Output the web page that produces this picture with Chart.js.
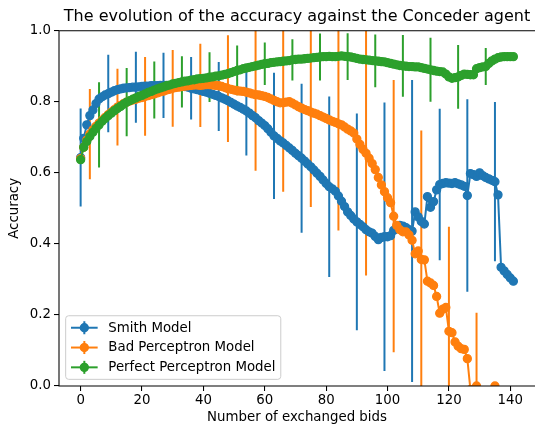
<!DOCTYPE html>
<html>
<head>
<meta charset="utf-8">
<script src="https://cdn.jsdelivr.net/npm/chart.js@4.4.1/dist/chart.umd.min.js"></script>
<style>
html,body{margin:0;padding:0;background:#fff;}
#wrap{width:535px;height:426px;position:relative;}
canvas{display:block;}
</style>
</head>
<body>
<div id="wrap"><canvas id="c" width="535" height="426"></canvas></div>
<script>
// ---------- data (x = number of exchanged bids = array index) ----------
const seriesNames = ['Smith Model', 'Bad Perceptron Model', 'Perfect Perceptron Model'];

const smith = [
0.643,0.697,0.735,0.761,0.777,0.795,0.808,0.814,0.819,0.823,
0.827,0.831,0.834,0.836,0.838,0.839,0.840,0.841,0.841,0.842,
0.843,0.844,0.844,0.845,0.845,0.845,0.846,0.846,0.846,0.846,
0.846,0.845,0.845,0.844,0.843,0.841,0.838,0.836,0.834,0.832,
0.829,0.827,0.824,0.821,0.818,0.815,0.811,0.807,0.803,0.798,
0.793,0.788,0.784,0.779,0.774,0.768,0.761,0.755,0.747,0.740,
0.733,0.724,0.714,0.704,0.697,0.690,0.684,0.677,0.670,0.663,
0.655,0.648,0.641,0.633,0.625,0.617,0.608,0.599,0.590,0.580,
0.570,0.561,0.555,0.548,0.535,0.520,0.505,0.490,0.480,0.470,
0.462,0.455,0.448,0.440,0.434,0.430,0.421,0.412,0.418,0.420,
0.420,0.423,0.438,0.448,0.452,0.450,0.446,0.440,0.436,0.490,
0.476,0.463,0.456,0.533,0.503,0.519,0.552,0.567,0.570,0.572,
0.571,0.570,0.572,0.569,0.566,0.562,0.536,0.598,0.595,0.590,
0.600,0.592,0.587,0.583,0.579,0.575,0.538,0.334,0.324,0.314,
0.304,0.295
];

const badPerceptron = [
0.640,0.672,0.692,0.709,0.721,0.731,0.740,0.748,0.756,0.764,
0.771,0.778,0.785,0.790,0.795,0.799,0.802,0.805,0.807,0.810,
0.812,0.815,0.817,0.820,0.822,0.825,0.828,0.830,0.833,0.835,
0.838,0.840,0.841,0.843,0.844,0.845,0.846,0.847,0.847,0.846,
0.847,0.848,0.848,0.847,0.846,0.845,0.843,0.840,0.837,0.835,
0.833,0.831,0.830,0.829,0.827,0.825,0.822,0.820,0.819,0.817,
0.815,0.812,0.808,0.804,0.800,0.797,0.797,0.799,0.800,0.796,
0.791,0.786,0.782,0.778,0.775,0.771,0.768,0.765,0.761,0.757,
0.753,0.749,0.745,0.742,0.738,0.735,0.729,0.723,0.718,0.712,
0.695,0.680,0.666,0.655,0.641,0.626,0.609,0.587,0.566,0.547,
0.530,0.516,0.478,0.452,0.440,0.434,0.434,0.425,0.410,0.372,
0.380,0.356,0.355,0.295,0.290,0.283,0.252,0.205,0.216,0.221,
0.154,0.150,0.124,0.112,0.105,0.103,0.077,-0.010,null,0.000,
null,null,null,null,null,0.000
];

const perfectPerceptron = [
0.637,0.672,0.688,0.702,0.714,0.725,0.735,0.745,0.753,0.761,
0.768,0.775,0.781,0.787,0.793,0.799,0.803,0.807,0.811,0.815,
0.818,0.822,0.826,0.829,0.833,0.836,0.839,0.842,0.845,0.847,
0.850,0.852,0.854,0.856,0.858,0.859,0.861,0.862,0.864,0.865,
0.866,0.867,0.869,0.870,0.872,0.873,0.875,0.877,0.879,0.882,
0.885,0.888,0.890,0.893,0.895,0.897,0.899,0.901,0.903,0.905,
0.907,0.908,0.910,0.911,0.912,0.913,0.914,0.915,0.916,0.918,
0.919,0.920,0.920,0.921,0.922,0.923,0.924,0.925,0.926,0.927,
0.927,0.928,0.927,0.927,0.928,0.929,0.928,0.927,0.926,0.924,
0.922,0.920,0.919,0.918,0.917,0.916,0.915,0.914,0.913,0.912,
0.910,0.908,0.906,0.904,0.902,0.901,0.900,0.899,0.899,0.898,
0.898,0.896,0.894,0.892,0.890,0.888,0.886,0.885,0.884,0.878,
0.870,0.866,0.868,0.870,0.874,0.878,0.877,0.876,0.876,0.893,
0.896,0.898,0.899,0.908,0.915,0.920,0.924,0.926,0.927,0.927,
0.927,0.927
];

// error bars: positions (bids) and half-lengths
const smithErrX = [0,9,18,27,36,45,54,63,72,81,90,99,108,117,126,135];
const smithErr  = [0.138,0.109,0.100,0.092,0.088,0.097,0.125,0.178,0.210,0.254,0.305,0.378,0.425,0.213,0.271,0.224];
const badErrX   = [3,12,21,30,39,48,57,66,75,84,93,102,111,120,129];
const badErr    = [0.127,0.108,0.111,0.108,0.117,0.150,0.214,0.250,0.267,0.300,0.344,0.383,0.363,0.294,0.206];
const perfectErrX = [6,15,24,33,42,51,60,69,78,87,96,105,114,123,132,141];
const perfectErr  = [0.120,0.096,0.080,0.072,0.070,0.070,0.060,0.058,0.066,0.066,0.074,0.087,0.090,0.090,0.052,0.004];

const xTicks = [0,20,40,60,80,100,120,140];
const yTicks = [0.0,0.2,0.4,0.6,0.8,1.0];

// ---------- styling ----------
const colors = ['#1f77b4','#ff7f0e','#2ca02c'];
const FONT = '"DejaVu Sans", "Liberation Sans", sans-serif';
const FS = 13.33;

function linePoints(vals){ return vals.map((v,i)=>({x:i, y:v})); }
function errPoints(vals, ex, ee){
  const out = [];
  ex.forEach((x,k)=>{
    const v = vals[x];
    out.push({x:x, y:v-ee[k]}, {x:x, y:v+ee[k]}, {x:x, y:null});
  });
  return out;
}

const mains = [smith, badPerceptron, perfectPerceptron];
const errs = [[smithErrX, smithErr],[badErrX, badErr],[perfectErrX, perfectErr]];

const datasets = [];
mains.forEach((vals, k)=>{
  datasets.push({
    label: seriesNames[k] + ' error', isMain:false,
    data: errPoints(vals, errs[k][0], errs[k][1]),
    borderColor: colors[k], backgroundColor: colors[k],
    borderWidth: 2, pointRadius: 0, pointHoverRadius:0, spanGaps:false,
    tension:0, clip:0, order: 10 + (2-k), borderCapStyle:'butt'
  });
});
mains.forEach((vals, k)=>{
  datasets.push({
    label: seriesNames[k], isMain:true, color: colors[k],
    data: linePoints(vals),
    borderColor: colors[k], backgroundColor: colors[k],
    pointBackgroundColor: colors[k], pointBorderColor: colors[k],
    borderWidth: 2, pointRadius: 4, pointBorderWidth: 1.3, pointHoverRadius: 4,
    spanGaps:false, tension:0, clip:0, order: 2-k
  });
});

const frameAndLegend = {
  id:'frameAndLegend',
  afterDraw(chart){
    const {ctx, chartArea:ca} = chart;
    ctx.save();
    // spines (the right spine falls just outside the picture, as in the original)
    ctx.strokeStyle = '#000';
    ctx.lineWidth = 1.07;
    ctx.beginPath();
    ctx.moveTo(ca.right, ca.bottom);
    ctx.lineTo(ca.left, ca.bottom);
    ctx.lineTo(ca.left, ca.top);
    ctx.lineTo(ca.right, ca.top);
    ctx.stroke();

    // legend (lower left, inside axes)
    const items = chart.data.datasets.filter(d=>d.isMain);
    const pad = FS*0.4, hl = FS*2, htp = FS*0.8, pitch = 19.8;
    ctx.font = FS + 'px ' + FONT;
    const tw = Math.max(...items.map(d=>ctx.measureText(d.label).width));
    const bw = pad + hl + htp + tw + pad;
    const bh = 2*pad + pitch*(items.length-1) + FS;
    const bx = ca.left + FS*0.5;
    const by = ca.bottom - FS*0.5 - bh;
    const r = 3;
    ctx.beginPath();
    ctx.moveTo(bx+r, by);
    ctx.lineTo(bx+bw-r, by); ctx.arcTo(bx+bw, by, bx+bw, by+r, r);
    ctx.lineTo(bx+bw, by+bh-r); ctx.arcTo(bx+bw, by+bh, bx+bw-r, by+bh, r);
    ctx.lineTo(bx+r, by+bh); ctx.arcTo(bx, by+bh, bx, by+bh-r, r);
    ctx.lineTo(bx, by+r); ctx.arcTo(bx, by, bx+r, by, r);
    ctx.closePath();
    ctx.fillStyle = 'rgba(255,255,255,0.8)';
    ctx.fill();
    ctx.strokeStyle = '#cccccc';
    ctx.lineWidth = 1;
    ctx.stroke();

    items.forEach((d, k)=>{
      const cy = by + pad + FS/2 + k*pitch;
      const x0 = bx + pad, x1 = x0 + hl, cx = (x0+x1)/2;
      ctx.strokeStyle = d.color; ctx.fillStyle = d.color;
      ctx.lineWidth = 2;
      ctx.beginPath(); ctx.moveTo(x0, cy); ctx.lineTo(x1, cy); ctx.stroke();
      ctx.beginPath(); ctx.moveTo(cx, cy-6.5); ctx.lineTo(cx, cy+6.5); ctx.stroke();
      ctx.lineWidth = 1.3;
      ctx.beginPath(); ctx.arc(cx, cy, 4, 0, Math.PI*2); ctx.fill(); ctx.stroke();
      ctx.fillStyle = '#000';
      ctx.textBaseline = 'middle'; ctx.textAlign = 'left';
      ctx.fillText(d.label, x1 + htp, cy + 0.5);
    });
    ctx.restore();
  }
};

new Chart(document.getElementById('c'), {
  type:'line',
  data:{ datasets },
  options:{
    responsive:false, animation:false, devicePixelRatio:1,
    events:[],
    layout:{ autoPadding:false, padding:{left:0,right:0,top:0,bottom:0} },
    plugins:{
      legend:{ display:false },
      tooltip:{ enabled:false },
      title:{
        display:true, fullSize:false,
        text:'The evolution of the accuracy against the Conceder agent',
        color:'#000', font:{family:FONT, size:16, weight:'normal', lineHeight:1.2},
        padding:{top:6.9, bottom:4.6}
      }
    },
    scales:{
      x:{
        type:'linear', min:-7.05, max:148.05,
        afterBuildTicks:(s)=>{ s.ticks = xTicks.map(v=>({value:v})); },
        afterFit:(s)=>{ s.height = 40; },
        grid:{ drawOnChartArea:false, drawTicks:true, tickLength:5, color:'#000', lineWidth:1.07 },
        border:{ display:false },
        ticks:{ color:'#000', font:{family:FONT, size:FS}, padding:2, maxRotation:0, autoSkip:false,
                callback:(v)=>String(v) },
        title:{ display:true, text:'Number of exchanged bids', color:'#000',
                font:{family:FONT, size:FS}, padding:{top:0,bottom:0} }
      },
      y:{
        type:'linear', min:0, max:1,
        afterBuildTicks:(s)=>{ s.ticks = yTicks.map(v=>({value:v})); },
        afterFit:(s)=>{ s.width = 59; },
        grid:{ drawOnChartArea:false, drawTicks:true, tickLength:5, color:'#000', lineWidth:1.07 },
        border:{ display:false },
        ticks:{ color:'#000', font:{family:FONT, size:FS}, padding:3, autoSkip:false,
                callback:(v)=>Number(v).toFixed(1) },
        title:{ display:true, text:'Accuracy', color:'#000',
                font:{family:FONT, size:FS}, padding:{top:7,bottom:0} }
      }
    }
  },
  plugins:[frameAndLegend]
});
</script>
</body>
</html>
